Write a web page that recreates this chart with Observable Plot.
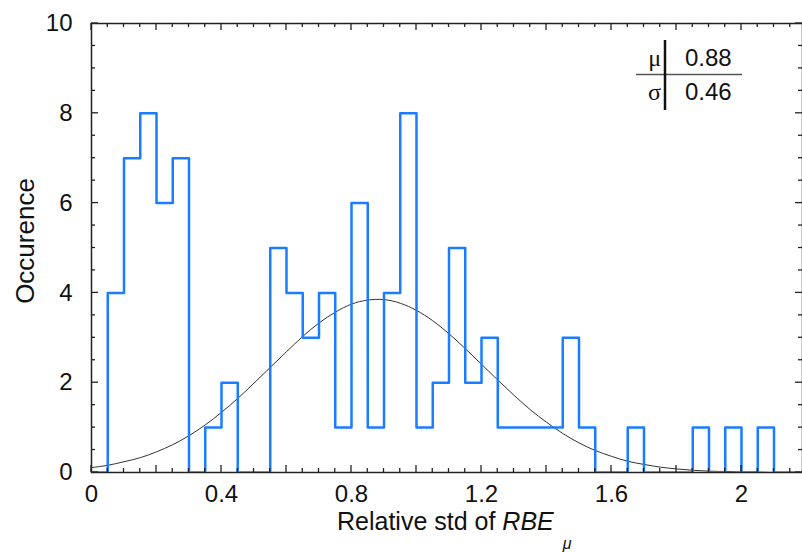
<!DOCTYPE html>
<html><head><meta charset="utf-8">
<script src="https://cdn.jsdelivr.net/npm/d3@7"></script>
<script src="https://cdn.jsdelivr.net/npm/@observablehq/plot@0.6"></script>
<style>html,body{margin:0;padding:0;background:#fff} #chart svg{display:block}</style>
</head><body><div id="chart"></div>
<script>
// Histogram: bin width 0.05, bins starting at 0
const binWidth = 0.05;
const counts = [0,4,7,8,6,7,0,1,2,0,0,5,4,3,4,1,6,1,4,8,1,2,5,2,3,1,1,1,1,3,1,0,0,1,0,0,0,1,0,1,0,1,0,0];

// Fitted normal curve
const fitX = [0,0.05,0.1,0.15,0.2,0.25,0.3,0.35,0.4,0.45,0.5,0.55,0.6,0.65,0.7,0.75,0.8,0.85,0.9,0.95,1.0,1.05,1.1,1.15,1.2,1.25,1.3,1.35,1.4,1.45,1.5,1.55,1.6,1.65,1.7,1.75,1.8,1.85,1.9,1.95,2.0,2.05,2.1,2.15,2.2];
const fitY = [0.11,0.16,0.24,0.33,0.46,0.62,0.82,1.06,1.34,1.65,1.99,2.34,2.69,3.03,3.33,3.57,3.75,3.84,3.85,3.77,3.61,3.38,3.09,2.76,2.41,2.06,1.72,1.40,1.12,0.87,0.66,0.49,0.36,0.25,0.18,0.12,0.08,0.05,0.03,0.02,0.01,0.01,0.0,0.0,0.0];

const statNames = ["\u03bc", "\u03c3"];
const statValues = ["0.88", "0.46"];

const xLabelTicks = [0, 0.4, 0.8, 1.2, 1.6, 2];
const yLabelTicks = [0, 2, 4, 6, 8, 10];

const histData = counts.map((c, i) => ({x: +(i * binWidth).toFixed(2), y: c}));
histData.push({x: +(counts.length * binWidth).toFixed(2), y: 0});
const fitData = fitX.map((x, i) => ({x, y: fitY[i]}));

const W = 802, H = 552, mL = 91, mT = 23, mB = 80, mR = 0;
const FONT = "'Liberation Sans', Arial, Helvetica, sans-serif";

const chart = Plot.plot({
  width: W, height: H,
  marginLeft: mL, marginRight: mR, marginTop: mT, marginBottom: mB,
  style: {fontFamily: FONT, fontSize: "24px", color: "#111", background: "#fff"},
  x: {domain: [0, 2.1877], ticks: xLabelTicks, tickSize: 0, tickPadding: 12, tickFormat: d => String(d), label: null},
  y: {domain: [0, 10], ticks: yLabelTicks, tickSize: 0, tickPadding: 19, label: null},
  marks: [
    Plot.frame({stroke: "#222", strokeWidth: 1.5}),
    Plot.line(fitData, {x: "x", y: "y", stroke: "#333", strokeWidth: 1, curve: "natural", clip: true}),
    Plot.line(histData, {x: "x", y: "y", stroke: "#1a7dff", strokeWidth: 2.5, curve: "step-after", clip: true})
  ]
});
document.getElementById("chart").appendChild(chart);

const svg = d3.select(chart);
const xs = chart.scale("x"), ys = chart.scale("y");
const xLeft = mL, xRight = W - mR, yBottom = H - mB, yTop = mT;

// inward ticks on all four sides
const tg = svg.append("g").attr("stroke", "#222").attr("stroke-width", 1.3);
for (let i = 0; i * 0.05 <= 2.1877 + 1e-9; i++) {
  const X = xs.apply(i * 0.05);
  const len = i % 4 === 0 ? 7 : 4;
  tg.append("line").attr("x1", X).attr("x2", X).attr("y1", yBottom).attr("y2", yBottom - len);
  tg.append("line").attr("x1", X).attr("x2", X).attr("y1", yTop).attr("y2", yTop + len);
}
for (let j = 0; j <= 20; j++) {
  const Y = ys.apply(j * 0.5);
  const len = j % 4 === 0 ? 7 : 4;
  tg.append("line").attr("x1", xLeft).attr("x2", xLeft + len).attr("y1", Y).attr("y2", Y);
  tg.append("line").attr("x1", xRight).attr("x2", xRight - len).attr("y1", Y).attr("y2", Y);
}

// axis titles
const xt = svg.append("text").attr("x", 337).attr("y", 530).attr("text-anchor", "start")
  .attr("font-family", FONT).attr("font-size", 25).attr("fill", "#111");
xt.append("tspan").text("Relative std of ");
xt.append("tspan").attr("font-style", "italic").text("RBE");
xt.append("tspan").attr("font-style", "italic").attr("font-size", 16).attr("dx", 9).attr("dy", 19).text("\u03bc");

svg.append("text").attr("transform", "translate(34,241) rotate(-90)")
  .attr("text-anchor", "middle").attr("font-family", FONT).attr("font-size", 26).attr("fill", "#111")
  .text("Occurence");

// stats box
const leg = svg.append("g").attr("font-family", FONT).attr("font-size", 24).attr("fill", "#111");
leg.append("line").attr("x1", 636).attr("x2", 742).attr("y1", 74.5).attr("y2", 74.5).attr("stroke", "#555").attr("stroke-width", 1.5);
leg.append("line").attr("x1", 665).attr("x2", 665).attr("y1", 40).attr("y2", 110).attr("stroke", "#111").attr("stroke-width", 2.5);
const rowsY = [66, 100];
statNames.forEach((n, i) => {
  leg.append("text").attr("x", 661).attr("y", rowsY[i]).attr("text-anchor", "end")
    .attr("font-family", "'Liberation Serif', 'Times New Roman', serif").text(n);
  leg.append("text").attr("x", 685).attr("y", rowsY[i]).attr("text-anchor", "start").text(statValues[i]);
});
</script>
</body></html>
